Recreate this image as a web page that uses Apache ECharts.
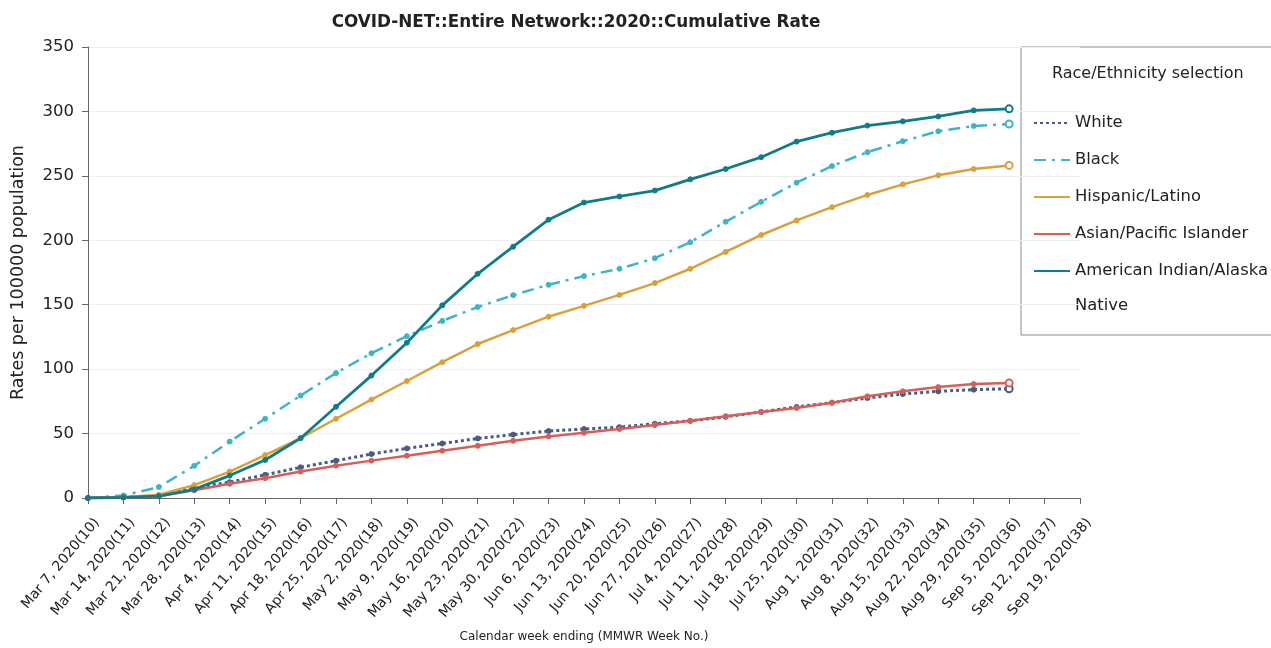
<!DOCTYPE html>
<html>
<head>
<meta charset="utf-8">
<script src="https://cdn.jsdelivr.net/npm/echarts@6/dist/echarts.min.js"></script>
<style>
  html, body { margin: 0; padding: 0; background: #fff; }
  #chart { width: 1271px; height: 648px; }
</style>
</head>
<body>
<div id="chart"></div>
<script>
// week ending labels (MMWR week no.)
const weeks = [
  'Mar 7, 2020(10)', 'Mar 14, 2020(11)', 'Mar 21, 2020(12)', 'Mar 28, 2020(13)',
  'Apr 4, 2020(14)', 'Apr 11, 2020(15)', 'Apr 18, 2020(16)', 'Apr 25, 2020(17)',
  'May 2, 2020(18)', 'May 9, 2020(19)', 'May 16, 2020(20)', 'May 23, 2020(21)',
  'May 30, 2020(22)', 'Jun 6, 2020(23)', 'Jun 13, 2020(24)', 'Jun 20, 2020(25)',
  'Jun 27, 2020(26)', 'Jul 4, 2020(27)', 'Jul 11, 2020(28)', 'Jul 18, 2020(29)',
  'Jul 25, 2020(30)', 'Aug 1, 2020(31)', 'Aug 8, 2020(32)', 'Aug 15, 2020(33)',
  'Aug 22, 2020(34)', 'Aug 29, 2020(35)', 'Sep 5, 2020(36)', 'Sep 12, 2020(37)',
  'Sep 19, 2020(38)'
];

const white = [0, 0.5, 1.5, 7.7, 12.3, 18, 23.8, 29, 34.1, 38.5, 42.3, 46.2, 49.2, 52,
  53.5, 55, 57.6, 59.9, 63, 66.8, 70.7, 74, 77.6, 80.7, 82.8, 84.1, 84.8];
const black = [0, 2, 8.5, 25, 43.8, 61.5, 79.5, 97, 112.3, 125.6, 137.4, 148.2, 157.4, 165.5,
  172.2, 177.9, 186.1, 198.5, 214.4, 229.8, 244.7, 257.6, 268.4, 276.9, 284.6, 288.7, 290.2];
const hispanic = [0, 0.5, 2.5, 10, 20.5, 33.3, 46.4, 61.5, 76.4, 90.8, 105.4, 119.5, 130.3, 140.7,
  149.1, 157.6, 166.8, 177.9, 191, 204.1, 215.4, 225.7, 235.2, 243.4, 250.4, 255.3, 258.1];
const asian = [0, 0.3, 1.3, 6, 11, 15.4, 20.5, 25.1, 29, 32.8, 36.7, 40.5, 44.4, 47.7,
  50.6, 53.5, 56.6, 59.9, 63.5, 66.8, 69.9, 74, 78.9, 82.8, 86.1, 88.4, 89.2];
const amIndian = [0, 0.5, 1.5, 6.7, 17.4, 29.5, 46.4, 70.8, 95, 120.5, 149.5, 174, 195, 216,
  229.3, 234, 238.6, 247.3, 255.3, 264.5, 276.6, 283.5, 289, 292.3, 296.1, 300.8, 302];

const seriesNames = ['White', 'Black', 'Hispanic/Latino', 'Asian/Pacific Islander', 'American Indian/Alaska Native'];

function points(arr) {
  // last reported week drawn as an open marker
  return arr.map((v, i) => i === arr.length - 1
    ? { value: v, symbol: 'emptyCircle', symbolSize: 7 }
    : v);
}

function makeLine(name, arr, color, type, width) {
  return {
    name: name,
    type: 'line',
    data: points(arr),
    symbol: 'circle',
    symbolSize: 5,
    showSymbol: true,
    color: color,
    lineStyle: { color: color, width: width, type: type },
    itemStyle: { color: color, borderColor: color },
    emphasis: { disabled: true }
  };
}

const chart = echarts.init(document.getElementById('chart'));
const font = 'DejaVu Sans';

const option = {
  animation: false,
  textStyle: { fontFamily: font },
  title: {
    text: 'COVID-NET::Entire Network::2020::Cumulative Rate',
    left: 571,
    textAlign: 'center',
    top: 9,
    textStyle: { fontFamily: font, fontSize: 16.8, fontWeight: 'bold', color: '#222' }
  },
  grid: { left: 88, right: 191, top: 47, bottom: 150, outerBoundsMode: 'none' },
  legend: {
    orient: 'vertical',
    left: 1033,
    top: 115,
    padding: 0,
    itemWidth: 36,
    itemHeight: 14,
    itemGap: 21,
    data: seriesNames,
    formatter: name => name === 'American Indian/Alaska Native' ? 'American Indian/Alaska' : name,
    itemStyle: { opacity: 0 },
    textStyle: { fontFamily: font, fontSize: 16.4, color: '#222', padding: [0, 0, 0, 0] },
    selectedMode: false
  },
  graphic: [
    {
      type: 'rect',
      shape: { x: 1021, y: 47, width: 260, height: 288 },
      style: { fill: 'none', stroke: '#8a8a8a', lineWidth: 1 },
      silent: true
    },
    {
      type: 'text',
      x: 1052, y: 74,
      style: { text: 'Race/Ethnicity selection', font: '16px "DejaVu Sans"', fill: '#222', verticalAlign: 'middle' }
    },
    {
      type: 'text',
      x: 1075, y: 306,
      style: { text: 'Native', font: '16.4px "DejaVu Sans"', fill: '#222', verticalAlign: 'middle' }
    }
  ],
  xAxis: {
    type: 'category',
    data: weeks,
    boundaryGap: false,
    name: 'Calendar week ending (MMWR Week No.)',
    nameLocation: 'middle',
    nameGap: 133,
    nameTextStyle: { fontFamily: font, fontSize: 12, color: '#222' },
    axisLine: { lineStyle: { color: '#666', width: 1 } },
    axisTick: { alignWithLabel: true, length: 6, lineStyle: { color: '#666' }, interval: 0 },
    axisLabel: { rotate: 50, interval: 0, fontSize: 14, color: '#222', margin: 33, padding: [0, -14, 0, 0] },
    splitLine: { show: false }
  },
  yAxis: {
    type: 'value',
    min: 0,
    max: 350,
    interval: 50,
    name: 'Rates per 100000 population',
    nameLocation: 'middle',
    nameGap: 61,
    nameTextStyle: { fontFamily: font, fontSize: 17.5, color: '#222' },
    axisLine: { show: true, lineStyle: { color: '#666', width: 1 } },
    axisTick: { show: true, length: 6, lineStyle: { color: '#666' } },
    axisLabel: { fontSize: 16.5, color: '#222', margin: 14 },
    splitLine: { lineStyle: { color: '#eeeeee', width: 1 } }
  },
  series: [
    makeLine(seriesNames[0], white, '#4a5a82', [3, 3], 3),
    makeLine(seriesNames[1], black, '#3cb6c7', [12, 6, 3, 6], 2.5),
    makeLine(seriesNames[2], hispanic, '#dba03c', 'solid', 2.5),
    makeLine(seriesNames[3], asian, '#d85f58', 'solid', 2.5),
    makeLine(seriesNames[4], amIndian, '#0e7d88', 'solid', 2.8)
  ]
};

chart.setOption(option);
</script>
</body>
</html>
